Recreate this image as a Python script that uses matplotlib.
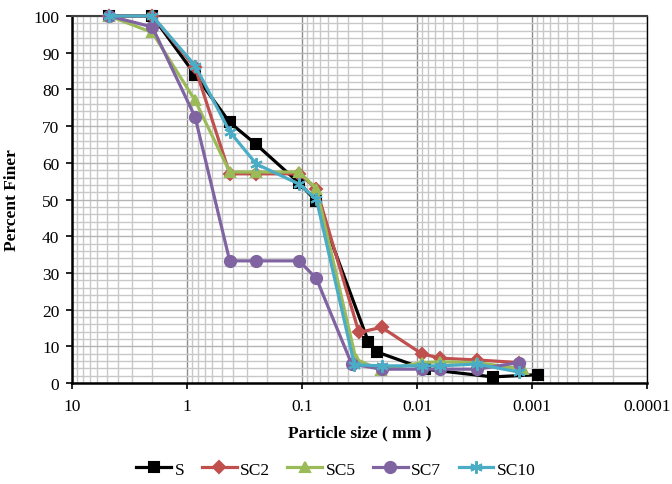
import matplotlib
matplotlib.use("Agg")
from matplotlib import pyplot as plt
from matplotlib.ticker import FixedLocator, MultipleLocator, LogLocator, NullFormatter

# grain size distribution (mm, % finer)
s_size = [4.75, 2.0, 0.85, 0.425, 0.25, 0.106, 0.075, 0.0265, 0.0224, 0.0085, 0.0022, 0.00088]
s_finer = [100, 100, 84, 71, 65, 54.5, 49.5, 11.3, 8.5, 3.8, 1.7, 2.3]

sc2_size = [4.75, 2.0, 0.85, 0.425, 0.25, 0.106, 0.075, 0.032, 0.0203, 0.0091, 0.0063, 0.003, 0.0013]
sc2_finer = [100, 100, 86, 57, 57, 57, 53, 13.8, 15.2, 8, 6.8, 6.3, 5.6]

sc5_size = [4.75, 2.0, 0.85, 0.425, 0.25, 0.106, 0.075, 0.034, 0.0205, 0.0091, 0.0063, 0.003, 0.0012]
sc5_finer = [100, 95.5, 77, 57.5, 57.5, 57.5, 53, 6.5, 3.5, 5.6, 5.8, 5.6, 3.8]

sc7_size = [4.75, 2.0, 0.85, 0.425, 0.25, 0.106, 0.075, 0.037, 0.0203, 0.0091, 0.0063, 0.003, 0.0013]
sc7_finer = [100, 97, 72.5, 33.3, 33.3, 33.3, 28.5, 5.2, 3.8, 3.8, 3.8, 3.8, 5.6]

sc10_size = [4.75, 2.0, 0.85, 0.425, 0.25, 0.106, 0.075, 0.035, 0.0203, 0.0091, 0.0063, 0.003, 0.0013]
sc10_finer = [100, 100, 86.5, 68.5, 59.7, 54.2, 50.1, 5.0, 4.7, 4.7, 4.7, 5.2, 3.0]

x_ticks = [10, 1, 0.1, 0.01, 0.001, 0.0001]
x_tick_labels = ['10', '1', '0.1', '0.01', '0.001', '0.0001']

plt.rcParams['font.family'] = ['Liberation Serif', 'DejaVu Serif']

fig = plt.figure(figsize=(6.72, 4.85), dpi=100)
ax = fig.add_axes([0.107, 0.208, 0.856, 0.757])

series = [
    (s_size, s_finer, 'S', '#000000', 's', 7),
    (sc2_size, sc2_finer, 'SC2', '#C0504D', 'D', 6),
    (sc5_size, sc5_finer, 'SC5', '#9BBB59', '^', 7.5),
    (sc7_size, sc7_finer, 'SC7', '#8064A2', 'o', 8),
    (sc10_size, sc10_finer, 'SC10', '#4BACC6', (6, 2, 0), 9),
]
for xs, ys, name, col, mk, ms in series:
    ax.plot(xs, ys, color=col, linewidth=2.3, marker=mk, markersize=ms,
            markeredgecolor=col, markerfacecolor=col, markeredgewidth=1.5,
            label=name, zorder=3, clip_on=False)

ax.set_xscale('log')
ax.set_xlim(10, 0.0001)
ax.set_ylim(0, 100)

ax.xaxis.set_major_locator(FixedLocator(x_ticks))
ax.set_xticklabels(x_tick_labels)
ax.xaxis.set_minor_locator(LogLocator(base=10, subs=range(2, 10), numticks=20))
ax.xaxis.set_minor_formatter(NullFormatter())
ax.yaxis.set_major_locator(MultipleLocator(10))
ax.yaxis.set_minor_locator(MultipleLocator(2))

ax.grid(True, which='minor', axis='both', color='#C8C8C8', linewidth=1.0, zorder=0)
ax.grid(True, which='major', axis='y', color='#B4B4B4', linewidth=1.0, zorder=0)
ax.grid(True, which='major', axis='x', color='#8C8C8C', linewidth=1.0, zorder=0)
ax.set_axisbelow(True)

ax.tick_params(axis='both', which='major', labelsize=12.5, direction='out', length=4,
               width=1.2, colors='black')
ax.tick_params(axis='both', which='minor', length=0)
ax.tick_params(axis='x', pad=7)
ax.tick_params(axis='y', pad=5)

for side in ['left', 'bottom']:
    ax.spines[side].set_linewidth(1.8)
    ax.spines[side].set_color('black')
ax.spines['top'].set_color('#404040')
ax.spines['top'].set_linewidth(1.5)
ax.spines['right'].set_color('black')
ax.spines['right'].set_linewidth(1.0)

ax.set_xlabel('Particle size ( mm )', fontsize=12.5, fontweight='bold', labelpad=7)
ax.set_ylabel('Percent Finer', fontsize=12.5, fontweight='bold', labelpad=10)

fig.legend(loc='center', bbox_to_anchor=(0.5, 0.03), ncol=5, frameon=False,
           fontsize=12.5, handlelength=2.0, handletextpad=0.2, columnspacing=1.0)

fig.savefig('out.png', dpi=100)
